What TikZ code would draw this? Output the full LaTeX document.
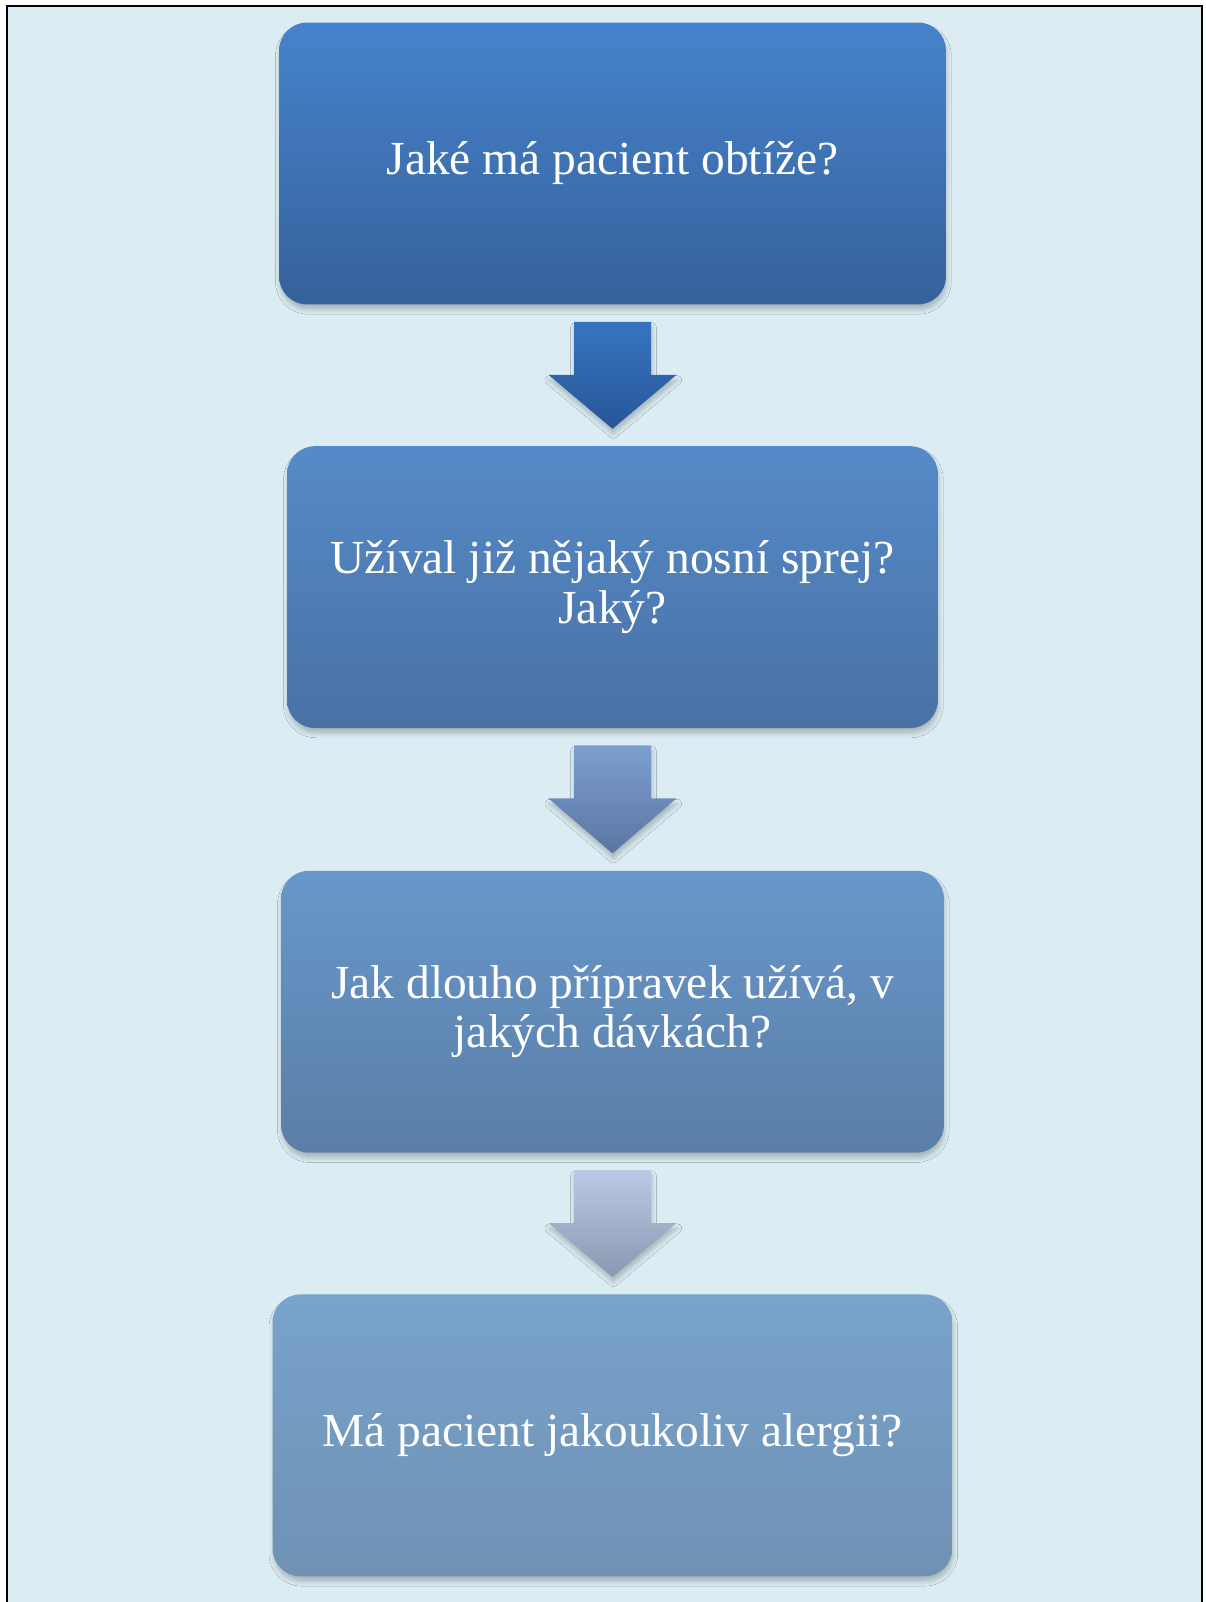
\documentclass[tikz,border=0pt]{standalone}
\usepackage{fontspec}
\setmainfont{Liberation Serif}
\usetikzlibrary{calc, positioning, shadows, shadows.blur}
\definecolor{paper}{RGB}{219,237,243}
\definecolor{boxAtop}{RGB}{70,131,204}
\definecolor{boxAbot}{RGB}{54,97,155}
\definecolor{boxBtop}{RGB}{85,138,200}
\definecolor{boxBbot}{RGB}{74,113,164}
\definecolor{boxCtop}{RGB}{103,151,201}
\definecolor{boxCbot}{RGB}{91,126,168}
\definecolor{boxDtop}{RGB}{121,163,203}
\definecolor{boxDbot}{RGB}{111,145,180}
\definecolor{arrAtop}{RGB}{54,116,192}
\definecolor{arrAbot}{RGB}{40,86,152}
\definecolor{arrBtop}{RGB}{126,159,209}
\definecolor{arrBbot}{RGB}{90,117,163}
\definecolor{arrCtop}{RGB}{186,201,228}
\definecolor{arrCbot}{RGB}{140,151,177}
\tikzset{
    softshadow/.style={
        blur shadow={shadow xshift=0.5pt, shadow yshift=-3pt, shadow blur radius=2.5pt, shadow opacity=22}
    },
    question/.style args={#1 #2}{
        rounded corners=0.56cm, top color=#1, bottom color=#2, softshadow,
        text=white, align=center, font=\fontsize{27}{28}\selectfont,
        minimum height=5.64cm, inner sep=0pt
    },
    blockarrow/.style args={#1 #2}{top color=#1, bottom color=#2, softshadow}
}
% block arrow between two boxes: upper node, lower node, style colours
\newcommand{\downblock}[3]{%
    \shade[blockarrow=#3]
        ($(#1.south)+(-38.5,17)$) -- ($(#1.south)+(38.5,17)$)
        -- ($(#1.south)+(38.5,70)$) -- ($(#1.south)+(64,70)$)
        -- ($(#2.north)+(0,-17)$)
        -- ($(#1.south)+(-64,70)$) -- ($(#1.south)+(-38.5,70)$) -- cycle;
}
\begin{document}
\begin{tikzpicture}[x=0.02cm, y=-0.02cm]
    \useasboundingbox (0,0) rectangle (1205,1602);
    \fill[paper] (7,6) rectangle (1202,1602);
    \draw[line width=0.9pt] (7,1602) -- (7,6) -- (1202,6) -- (1202,1602);

    \node[question={boxAtop boxAbot}, minimum width=13.34cm] (q1) at (612.5,163.5)
        {Jaké má pacient obtíže?};
    \node[question={boxBtop boxBbot}, minimum width=13.02cm, below=2.82cm of q1] (q2)
        {Užíval již nějaký nosní sprej?\\Jaký?};
    \node[question={boxCtop boxCbot}, minimum width=13.26cm, below=2.84cm of q2] (q3)
        {Jak dlouho přípravek užívá, v\\jakých dávkách?};
    \node[question={boxDtop boxDbot}, minimum width=13.60cm, below=2.82cm of q3] (q4)
        {Má pacient jakoukoliv alergii?};

    \downblock{q1}{q2}{arrAtop arrAbot}
    \downblock{q2}{q3}{arrBtop arrBbot}
    \downblock{q3}{q4}{arrCtop arrCbot}
\end{tikzpicture}
\end{document}
